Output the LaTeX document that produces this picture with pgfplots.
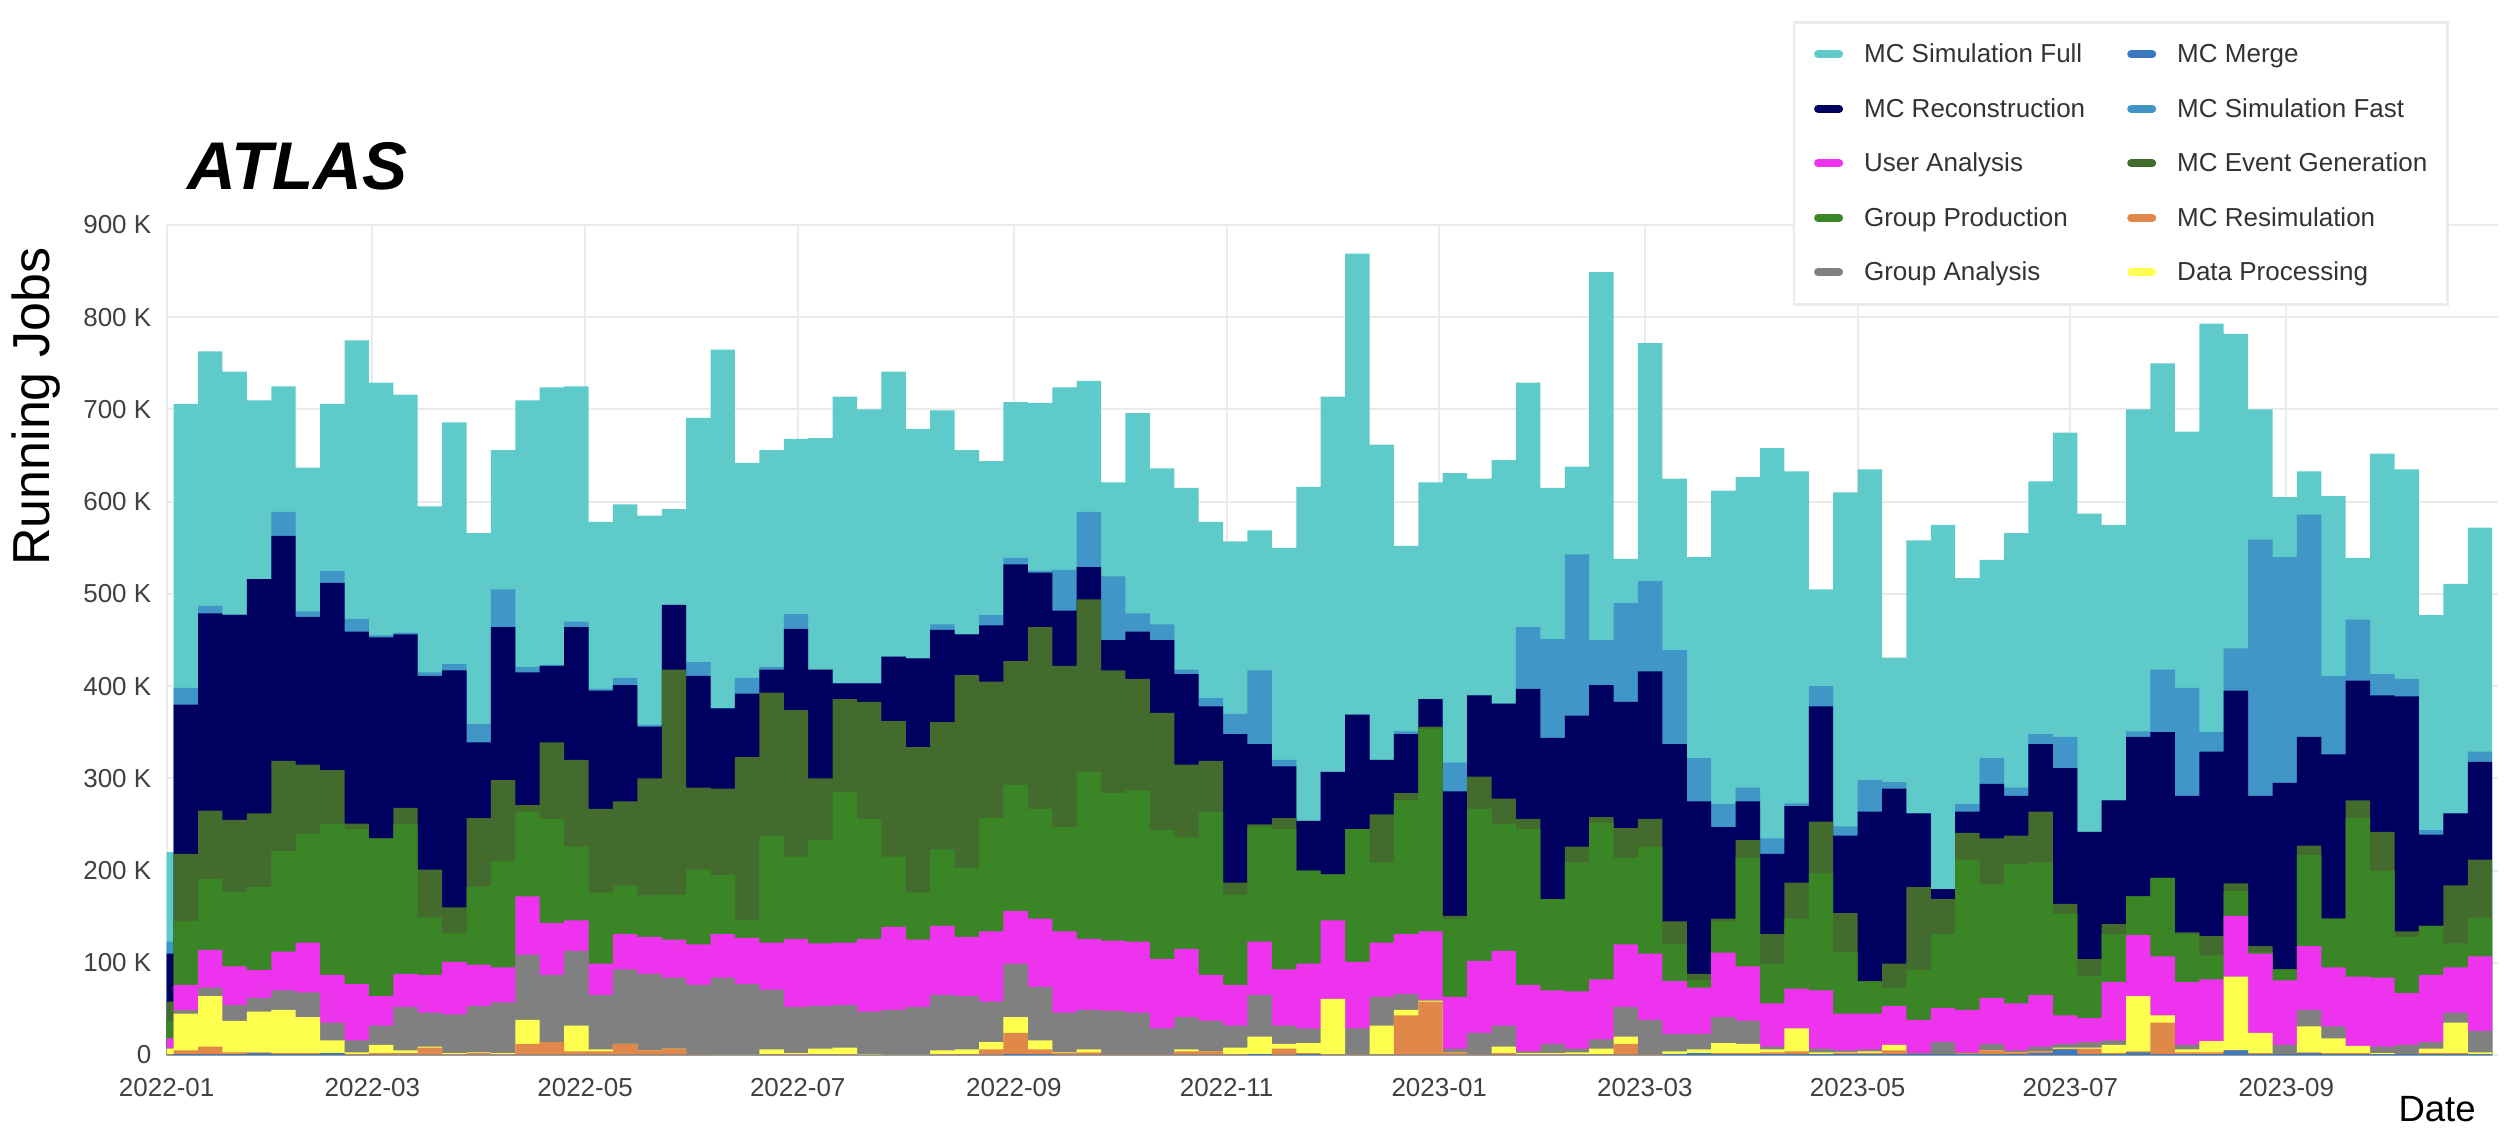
\documentclass[border=0pt]{standalone}
\usepackage{pgfplots}
\usepackage{pgfplotstable}
\pgfplotsset{compat=1.18}
\usepackage{fontspec}
\setmainfont{Liberation Sans}
\definecolor{cfull}{RGB}{94,202,202}
\definecolor{cfast}{RGB}{64,150,198}
\definecolor{creco}{RGB}{0,0,96}
\definecolor{cevgen}{RGB}{67,107,45}
\definecolor{cgprod}{RGB}{58,134,38}
\definecolor{cuser}{RGB}{238,51,238}
\definecolor{cgana}{RGB}{128,128,128}
\definecolor{cdata}{RGB}{255,255,80}
\definecolor{cresim}{RGB}{224,136,74}
\definecolor{cmerge}{RGB}{58,120,192}
% cumulative (stacked) tops of each layer, in thousands of running jobs
\pgfplotstableread{
x merge resim data gana user gprod evgen reco fast full
0 0.5 1 7 8 18 37 58 110 123 220
2 1 5 45 49 76 145 218 380 398 706
9 1 9 64 73 114 191 265 479 487 763
16 1 3 37 54 96 177 255 477 478 741
23 2 3 47 62 92 182 262 516 516 710
30 1 2 49 70 112 221 319 563 589 725
37 1 2 41 68 122 240 315 475 481 637
44 2 2 16 35 87 251 309 512 525 706
51 0.5 1 3 16 77 245 251 459 473 775
58 0.5 2 11 32 64 235 235 453 455 729
65 0.5 2 5 52 88 250 268 456 458 716
72 0.5 8 9 46 87 149 201 411 415 595
79 0.5 1 2 44 101 132 160 417 424 686
86 0.5 2 3 53 98 183 257 339 359 566
93 0.5 1 2 57 95 210 298 464 505 656
100 0.5 12 38 109 172 264 271 415 421 710
107 0.5 14 14 87 143 256 339 422 423 724
114 0.5 4 32 113 146 226 320 464 470 725
121 0.5 4 6 65 99 176 267 395 397 578
128 0.5 12 12 93 131 184 275 401 409 597
135 0.5 5 5 88 128 173 300 356 358 585
142 0.5 7 7 84 125 174 418 488 488 592
149 0.5 1 1 76 120 201 290 411 426 691
156 0.5 0.5 0.5 84 131 195 289 376 376 765
163 0.5 0.5 0.5 77 127 146 323 392 409 642
170 0.5 1 6 71 122 238 393 418 421 656
177 0.5 1 2 52 126 215 374 462 478 668
184 0.5 1 7 53 121 233 300 418 418 669
191 0.5 1 8 54 122 285 386 403 403 714
198 0.5 0.5 1 47 126 256 383 403 403 700
205 0.5 0.5 0.5 49 139 215 362 432 432 741
212 0.5 0.5 0.5 52 125 176 334 430 430 679
219 0.5 1 5 65 140 223 361 461 467 699
226 0.5 1 6 64 128 203 412 456 456 656
233 0.5 6 14 58 134 257 405 466 477 644
240 1 24 41 99 156 293 427 532 539 708
247 1 6 16 74 148 267 464 523 525 707
254 0.5 2 3 46 134 247 422 482 526 724
261 0.5 3 6 49 126 307 494 529 589 731
268 0.5 1 1 48 124 284 417 450 519 621
275 0.5 1 1 46 123 287 408 459 479 696
282 0.5 1 1 29 104 244 371 450 467 636
289 0.5 4 6 41 115 236 315 413 418 615
296 0.5 4 4 37 87 264 319 378 387 578
303 0.5 1 8 32 76 174 187 348 370 557
310 1 1 20 65 123 247 250 337 417 569
317 0.5 7 12 32 93 245 257 313 320 550
324 1 2 13 29 99 200 200 254 254 616
331 0.5 1 61 61 146 196 196 307 307 714
338 0.5 1 1 29 101 245 245 369 369 869
345 0.5 1 32 63 122 209 261 320 320 662
352 0.5 43 49 66 131 276 284 348 351 552
359 0.5 58 59 60 134 354 356 386 386 621
366 0.5 3 3 7 63 148 151 286 317 631
373 0.5 1 1 24 102 267 302 390 390 625
380 0.5 2 9 32 113 251 278 381 381 645
387 0.5 1 2 4 76 245 256 397 464 729
394 0.5 1 2 12 70 169 169 344 451 615
401 0.5 1 3 7 69 209 226 368 543 638
408 0.5 1 7 17 82 252 258 401 450 849
415 0.5 12 20 52 120 214 246 383 490 538
422 0.5 1 1 38 110 226 256 416 514 772
429 1 1 4 23 80 120 145 337 439 625
436 2 2 6 23 73 81 88 275 322 540
443 1 2 13 41 111 145 148 247 272 612
450 1 2 12 37 96 214 233 275 290 627
457 1 3 6 9 56 99 131 218 235 658
464 1 4 29 29 72 148 187 270 273 633
471 1 1 3 7 70 197 253 378 400 505
478 1 2 3 5 45 112 154 238 248 610
485 1 2 4 6 45 79 80 264 298 635
492 1 5 11 11 53 73 99 289 296 431
499 1 1 1 2 38 92 182 262 262 558
506 1 1 1 14 51 131 169 180 180 575
513 1 2 2 3 49 212 241 264 272 517
520 1 5 5 12 62 185 235 294 322 537
527 1 3 3 5 56 207 238 281 290 566
534 2 4 4 9 65 209 264 337 348 622
541 6 7 8 12 43 153 164 311 345 675
548 1 7 8 14 40 86 104 242 242 587
555 1 2 11 16 79 131 142 276 276 575
562 3 4 64 64 130 172 172 345 351 700
569 1 35 43 43 107 192 192 350 418 750
576 1 3 6 11 79 131 133 281 398 676
583 1 3 15 15 82 108 129 329 350 793
590 5 5 85 85 151 178 186 395 441 782
597 1 2 24 24 110 112 118 281 559 700
604 1 1 1 11 81 93 93 295 540 605
611 2 3 31 49 118 217 227 345 586 633
618 1 2 18 31 95 148 148 326 411 606
625 1 2 10 10 85 257 276 406 472 539
632 1 1 2 9 84 200 242 390 413 652
639 1 1 1 11 67 128 134 389 408 635
646 1 2 7 14 87 140 140 239 244 477
653 1 2 35 46 95 121 184 262 262 511
660 1 1 3 26 107 149 212 318 329 572
667 1 1 3 26 107 149 212 318 329 572
}\jobs
\begin{document}
\begin{tikzpicture}
\begin{axis}[
  scale only axis, width=23.31cm, height=8.30cm,
  xmin=0, xmax=668.6, ymin=0, ymax=900,
  xtick={0,59,120,181,243,304,365,424,485,546,608},
  xticklabels={2022-01,2022-03,2022-05,2022-07,2022-09,2022-11,2023-01,2023-03,2023-05,2023-07,2023-09},
  ytick={0,100,200,300,400,500,600,700,800,900},
  yticklabels={0,100 K,200 K,300 K,400 K,500 K,600 K,700 K,800 K,900 K},
  grid=major, grid style={color=black!8, line width=0.2mm},
  axis line style={draw=none}, major tick length=0pt,
  tick label style={font=\fontsize{7.4}{9}\selectfont, text=black!75},
  yticklabel style={xshift=-0.03cm},
  xticklabel style={yshift=-0.11cm},
  ylabel={Running Jobs},
  every axis y label/.style={at={(axis description cs:-0.0562,0.781)}, rotate=90, anchor=center, font=\fontsize{14.8}{16}\selectfont},
  xlabel={Date},
  every axis x label/.style={at={(axis description cs:0.974,-0.065)}, anchor=center, font=\fontsize{10.4}{12}\selectfont},
  title={ATLAS},
  every axis title/.style={at={(axis description cs:0.0562,1.071)}, anchor=center, font=\fontsize{19.2}{21}\selectfont\bfseries\itshape},
  const plot,
  every axis plot/.append style={draw=none},
  legend columns=2,
  legend cell align=left,
  legend image code/.code={\path (0cm,-0.12cm) rectangle (0.29cm,0.12cm);
    \draw[#1, draw opacity=1, line width=0.8mm, line cap=round] (0.04cm,0cm) -- (0.25cm,0cm);},
  legend style={at={(axis description cs:0.6976,1.2458)}, anchor=north west,
    draw=black!8, line width=0.25mm, fill=white,
    inner xsep=0.2cm, inner ysep=0.2cm,
    font=\fontsize{7.4}{9}\selectfont, text=black!80,
    row sep=0.305cm, column sep=0.21cm,
    cells={anchor=west},
    nodes={inner sep=0pt, text height=0.2cm, text depth=0.03cm},
    /tikz/every even column/.append style={column sep=0.42cm}},
]
\addplot[fill=cfull, forget plot] table[x=x, y=full] {\jobs} \closedcycle;
\addplot[fill=cfast, forget plot] table[x=x, y=fast] {\jobs} \closedcycle;
\addplot[fill=creco, forget plot] table[x=x, y=reco] {\jobs} \closedcycle;
\addplot[fill=cevgen, forget plot] table[x=x, y=evgen] {\jobs} \closedcycle;
\addplot[fill=cgprod, forget plot] table[x=x, y=gprod] {\jobs} \closedcycle;
\addplot[fill=cuser, forget plot] table[x=x, y=user] {\jobs} \closedcycle;
\addplot[fill=cgana, forget plot] table[x=x, y=gana] {\jobs} \closedcycle;
\addplot[fill=cdata, forget plot] table[x=x, y=data] {\jobs} \closedcycle;
\addplot[fill=cresim, forget plot] table[x=x, y=resim] {\jobs} \closedcycle;
\addplot[fill=cmerge, forget plot] table[x=x, y=merge] {\jobs} \closedcycle;
\addlegendimage{color=cfull}\addlegendentry{MC Simulation Full}
\addlegendimage{color=cmerge}\addlegendentry{MC Merge}
\addlegendimage{color=creco}\addlegendentry{MC Reconstruction}
\addlegendimage{color=cfast}\addlegendentry{MC Simulation Fast}
\addlegendimage{color=cuser}\addlegendentry{User Analysis}
\addlegendimage{color=cevgen}\addlegendentry{MC Event Generation}
\addlegendimage{color=cgprod}\addlegendentry{Group Production}
\addlegendimage{color=cresim}\addlegendentry{MC Resimulation}
\addlegendimage{color=cgana}\addlegendentry{Group Analysis}
\addlegendimage{color=cdata}\addlegendentry{Data Processing}
\end{axis}
\pgfresetboundingbox
\path (-1.667cm,-0.81cm) rectangle (23.513cm,10.55cm);
\end{tikzpicture}
\end{document}
